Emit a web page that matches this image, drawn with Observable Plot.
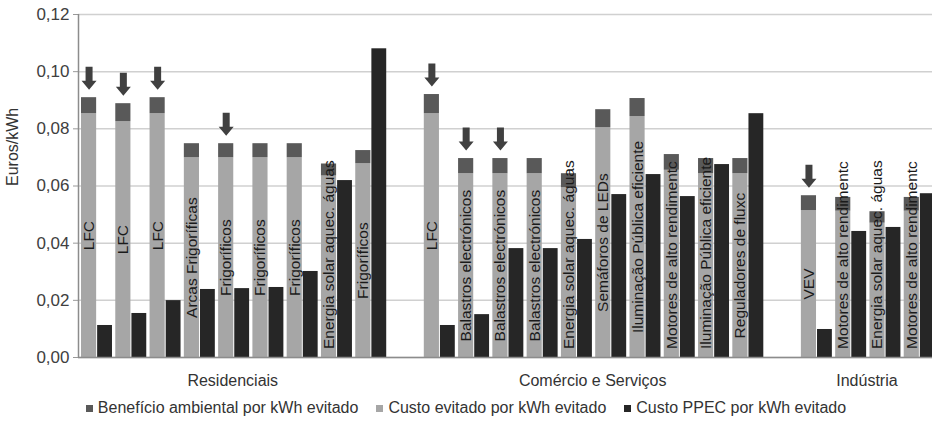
<!DOCTYPE html>
<html><head><meta charset="utf-8">
<script src="https://cdn.jsdelivr.net/npm/d3@7"></script>
<script src="https://cdn.jsdelivr.net/npm/@observablehq/plot@0.6"></script>
<style>
body{margin:0;background:#fff;font-family:"Liberation Sans",Arial,sans-serif;}
#legend{display:flex;justify-content:center;align-items:center;height:26px;font-size:16px;color:#333;}
.item{display:flex;align-items:center;margin:0 9px;}
.sw{width:7px;height:7px;margin-right:5px;}
</style></head><body><div id="chart"></div><div id="legend"></div>
<script>
const groups = ["Residenciais", "Comércio e Serviços", "Indústria"];
const measures = [
  "LFC","LFC","LFC","Arcas Frigoríficas","Frigoríficos","Frigoríficos","Frigoríficos","Energia solar aquec. águas","Frigoríficos",
  "LFC","Balastros electrónicos","Balastros electrónicos","Balastros electrónicos","Energia solar aquec. águas","Semáforos de LEDs","Iluminação Pública eficiente","Motores de alto rendimentc","Iluminação Pública eficiente","Reguladores de fluxc",
  "VEV","Motores de alto rendimentc","Energia solar aquec. águas","Motores de alto rendimentc"
];
const measureGroup = [0,0,0,0,0,0,0,0,0, 1,1,1,1,1,1,1,1,1,1, 2,2,2,2];
const custoEvitado = [0.0853,0.0825,0.0853,0.0699,0.0699,0.0699,0.0699,0.0635,0.0678,
  0.0853,0.0643,0.0643,0.0643,0.0594,0.0804,0.0843,0.0655,0.0643,0.0643,
  0.0514,0.0512,0.0470,0.0512];
const beneficioAmbiental = [0.0056,0.0063,0.0056,0.0049,0.0049,0.0049,0.0049,0.0042,0.0046,
  0.0067,0.0053,0.0053,0.0053,0.0049,0.0063,0.0063,0.0055,0.0053,0.0053,
  0.0052,0.0048,0.0040,0.0048];
const custoPPEC = [0.0112,0.0154,0.0199,0.0238,0.0241,0.0245,0.0301,0.0619,0.1080,
  0.0112,0.0150,0.0381,0.0381,0.0413,0.0570,0.0640,0.0563,0.0675,0.0853,
  0.0098,0.0441,0.0455,0.0573];
const withArrow = [1,1,1,0,1,0,0,0,0, 1,1,1,0,0,0,0,0,0,0, 1,0,0,0];
const yTicks = [0, 0.02, 0.04, 0.06, 0.08, 0.10, 0.12];
const seriesNames = ["Benefício ambiental por kWh evitado", "Custo evitado por kWh evitado", "Custo PPEC por kWh evitado"];
const seriesColors = ["#595959", "#a6a6a6", "#262626"];

const rows = measures.map((m, i) => ({
  measure: m, group: measureGroup[i], slot: i + measureGroup[i],
  light: custoEvitado[i], benefit: beneficioAmbiental[i],
  total: custoEvitado[i] + beneficioAmbiental[i], ppec: custoPPEC[i], arrow: withArrow[i] === 1
}));
const nSlots = rows.length + groups.length - 1;
const groupRows = groups.map((g, gi) => {
  const s = rows.filter(r => r.group === gi).map(r => r.slot);
  return {name: g, center: (d3.min(s) + d3.max(s) + 1) / 2};
});

const arrowSymbol = {
  draw(ctx) {
    ctx.moveTo(-3.5, -11.5); ctx.lineTo(3.5, -11.5); ctx.lineTo(3.5, 2.5);
    ctx.lineTo(7.5, 2.5); ctx.lineTo(0, 11.5); ctx.lineTo(-7.5, 2.5);
    ctx.lineTo(-3.5, 2.5); ctx.closePath();
  }
};
const fmt = d => d.toFixed(2).replace(".", ",");

const svg = Plot.plot({
  width: 932, height: 395,
  marginLeft: 78, marginRight: -3, marginTop: 14, marginBottom: 38,
  x: {domain: [0, nSlots], axis: null},
  y: {domain: [0, 0.12], axis: null},
  style: {fontFamily: "'Liberation Sans', Arial, sans-serif", background: "white", overflow: "visible"},
  marks: [
    Plot.ruleY(yTicks, {stroke: "#d0d0d0", strokeWidth: 1.5}),
    Plot.axisY({ticks: yTicks, tickFormat: fmt, tickSize: 5, tickPadding: 4, fontSize: 17, stroke: "#999", fill: "#404040", label: null}),
    Plot.rect(rows, {x1: "slot", x2: d => d.slot + 0.5, y1: 0, y2: "light", fill: seriesColors[1], insetLeft: 3, insetRight: -1}),
    Plot.rect(rows, {x1: "slot", x2: d => d.slot + 0.5, y1: "light", y2: "total", fill: seriesColors[0], insetLeft: 3, insetRight: -1}),
    Plot.rect(rows, {x1: d => d.slot + 0.5, x2: d => d.slot + 1, y1: 0, y2: "ppec", fill: seriesColors[2], insetLeft: 2, insetRight: 0.3}),
    Plot.ruleX([0], {stroke: "#8c8c8c", strokeWidth: 1.5}),
    Plot.ruleY([0], {stroke: "#8c8c8c", strokeWidth: 1.5}),
    Plot.text(rows, {x: d => d.slot + 0.25, dx: 2, y: d => d.light / 2, text: "measure", rotate: -90, fontSize: 15.5, fill: "#1a1a1a", className: "barlabel"}),
    Plot.dot(rows.filter(r => r.arrow), {x: d => d.slot + 0.25, dx: 2, y: "total", dy: -19.5, symbol: arrowSymbol, fill: "#404040", stroke: "none", r: 8}),
    Plot.text(groupRows, {x: "center", y: 0, dy: 23, text: "name", fontSize: 16, fill: "#333"}),
    Plot.text(["Euros/kWh"], {frameAnchor: "left", dx: -66, rotate: -90, text: d => d, fontSize: 16, fill: "#333"})
  ]
});
document.getElementById("chart").append(svg);

// keep long labels inside the plot area (like the spreadsheet does)
const y0 = svg.scale("y").apply(0);
const svgTop = svg.getBoundingClientRect().top;
svg.querySelectorAll(".barlabel text").forEach(t => {
  const b = t.getBoundingClientRect().bottom - svgTop;
  const limit = y0 - 8;
  if (b > limit) t.setAttribute("transform", (t.getAttribute("transform") || "") + ` translate(${b - limit},0)`);
});

const legend = document.getElementById("legend");
seriesNames.forEach((n, i) => {
  const it = document.createElement("div"); it.className = "item";
  const sw = document.createElement("div"); sw.className = "sw"; sw.style.background = seriesColors[i];
  const tx = document.createElement("span"); tx.textContent = n;
  it.append(sw, tx); legend.append(it);
});
</script></body></html>
